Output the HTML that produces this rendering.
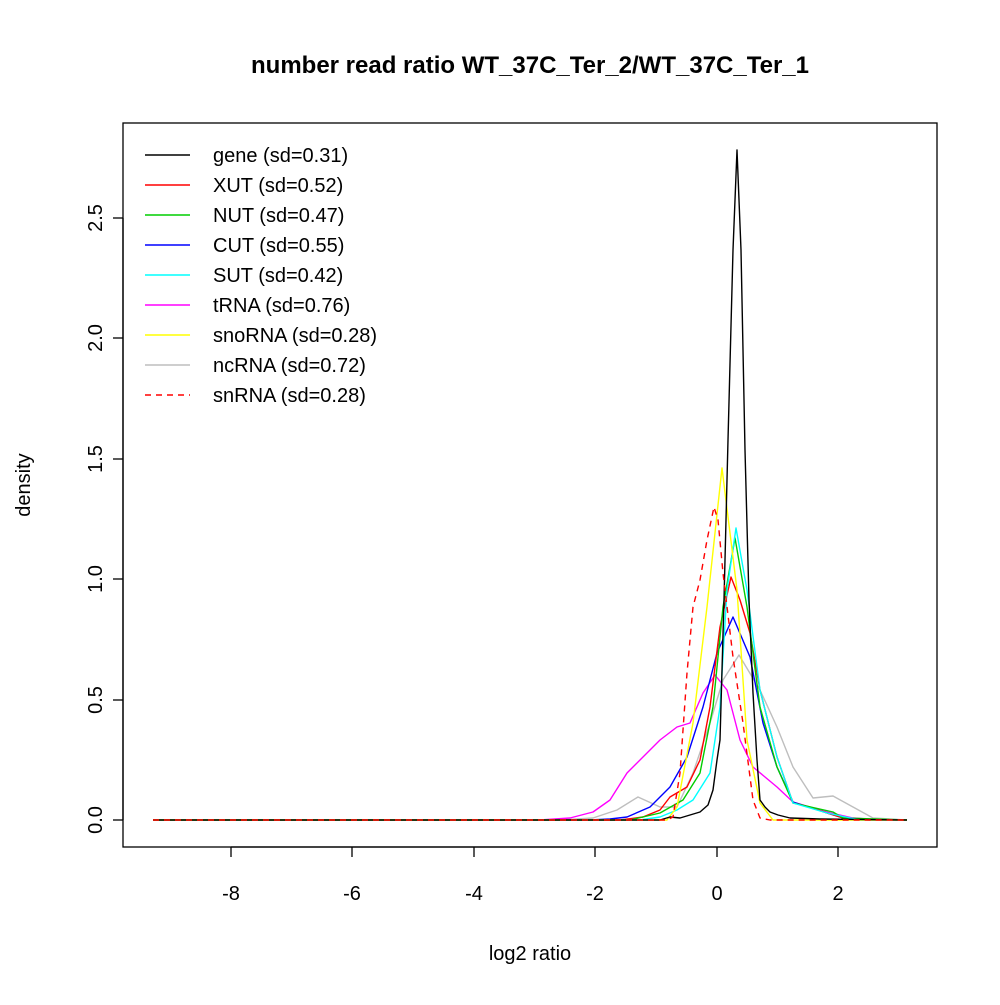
<!DOCTYPE html>
<html><head><style>body{margin:0;background:#fff}</style></head><body>
<svg width="1000" height="1000" xmlns="http://www.w3.org/2000/svg" font-family="Liberation Sans, sans-serif">
<rect width="1000" height="1000" fill="#fff"/>
<text x="530" y="73" text-anchor="middle" font-size="24" font-weight="bold">number read ratio WT_37C_Ter_2/WT_37C_Ter_1</text>
<rect x="123" y="123" width="814" height="724" fill="none" stroke="#000" stroke-width="1.3"/>
<g stroke="#000" stroke-width="1.3">
<line x1="231" y1="847" x2="838" y2="847"/>
<line x1="231" y1="847" x2="231" y2="857"/><line x1="352" y1="847" x2="352" y2="857"/><line x1="474" y1="847" x2="474" y2="857"/><line x1="595" y1="847" x2="595" y2="857"/><line x1="717" y1="847" x2="717" y2="857"/><line x1="838" y1="847" x2="838" y2="857"/>
<line x1="123" y1="820" x2="123" y2="218"/>
<line x1="113" y1="820" x2="123" y2="820"/><line x1="113" y1="700" x2="123" y2="700"/><line x1="113" y1="579" x2="123" y2="579"/><line x1="113" y1="459" x2="123" y2="459"/><line x1="113" y1="338" x2="123" y2="338"/><line x1="113" y1="218" x2="123" y2="218"/>
</g>
<g font-size="20" text-anchor="middle">
<text x="231" y="900">-8</text><text x="352" y="900">-6</text><text x="474" y="900">-4</text><text x="595" y="900">-2</text><text x="717" y="900">0</text><text x="838" y="900">2</text>
<text x="530" y="960">log2 ratio</text>
<text transform="translate(30,485) rotate(-90)">density</text>
<text transform="translate(102,820) rotate(-90)">0.0</text>
<text transform="translate(102,700) rotate(-90)">0.5</text>
<text transform="translate(102,579) rotate(-90)">1.0</text>
<text transform="translate(102,459) rotate(-90)">1.5</text>
<text transform="translate(102,338) rotate(-90)">2.0</text>
<text transform="translate(102,218) rotate(-90)">2.5</text>
</g>
<g fill="none" stroke-width="1.4" stroke-linejoin="round">
<polyline stroke="#bebebe" points="153,820 560,820 593,818 617,810 638,797 660,807 677,807 693,773 710,723 723,680 739,655 760,690 777,727 793,767 813,798 833,796 853,807 873,818 907,820"/>
<polyline stroke="#ff00ff" points="153,820 540,820 570,818 593,812 610,800 627,773 643,757 660,740 677,727 690,723 703,693 715,675 727,690 740,740 753,767 777,787 793,802 827,812 853,818 880,820 907,820"/>
<polyline stroke="#0000ff" points="153,820 590,820 610,819 627,817 650,807 670,787 687,757 703,707 717,653 733,617 750,657 763,723 777,767 793,802 827,813 843,818 870,820 907,820"/>
<polyline stroke="#ff0000" points="153,820 620,820 643,817 660,810 670,797 687,787 700,760 710,707 720,627 731,577 740,600 750,633 760,690 777,757 793,803 810,807 827,813 843,818 870,820 907,820"/>
<polyline stroke="#00cd00" points="153,820 630,820 660,813 683,800 700,773 713,707 723,607 735,538 747,607 760,707 777,767 793,803 833,812 843,818 907,820"/>
<polyline stroke="#00ffff" points="153,820 640,820 660,817 677,810 693,800 710,773 720,707 727,590 736,528 747,590 760,690 777,757 793,803 827,813 860,820 907,820"/>
<polyline stroke="#ffff00" points="153,820 660,820 667,820 677,807 693,723 707,607 722,468 737,590 747,740 760,803 773,820 907,820"/>
<polyline stroke="#000000" points="153,820 660,820 670,817 680,818 690,815 700,812 708,805 713,790 717,760 720,740 724,600 728,440 733,250 737,150 741,250 745,450 749,600 753,693 757,760 760,800 765,807 770,812 778,815 790,818 820,819 907,820"/>
<polyline stroke="#ff0000" stroke-dasharray="6,5" points="153,820 660,820 667,820 673,817 680,773 687,673 693,607 700,580 707,540 714,507 718,520 723,573 733,657 743,723 753,800 760,818 770,820 907,820"/>
</g>
<g stroke-width="1.4">
<line x1="145" y1="155" x2="190" y2="155" stroke="#000"/>
<line x1="145" y1="185" x2="190" y2="185" stroke="#f00"/>
<line x1="145" y1="215" x2="190" y2="215" stroke="#00cd00"/>
<line x1="145" y1="245" x2="190" y2="245" stroke="#00f"/>
<line x1="145" y1="275" x2="190" y2="275" stroke="#0ff"/>
<line x1="145" y1="305" x2="190" y2="305" stroke="#f0f"/>
<line x1="145" y1="335" x2="190" y2="335" stroke="#ff0"/>
<line x1="145" y1="365" x2="190" y2="365" stroke="#bebebe"/>
<line x1="145" y1="395" x2="190" y2="395" stroke="#f00" stroke-dasharray="6,5"/>
</g>
<g font-size="20">
<text x="213" y="162">gene (sd=0.31)</text>
<text x="213" y="192">XUT (sd=0.52)</text>
<text x="213" y="222">NUT (sd=0.47)</text>
<text x="213" y="252">CUT (sd=0.55)</text>
<text x="213" y="282">SUT (sd=0.42)</text>
<text x="213" y="312">tRNA (sd=0.76)</text>
<text x="213" y="342">snoRNA (sd=0.28)</text>
<text x="213" y="372">ncRNA (sd=0.72)</text>
<text x="213" y="402">snRNA (sd=0.28)</text>
</g>
</svg>
</body></html>
